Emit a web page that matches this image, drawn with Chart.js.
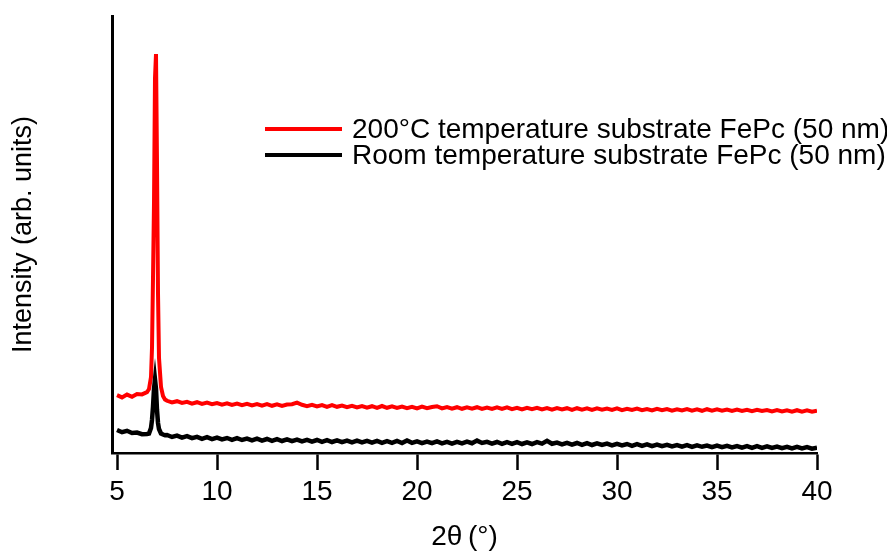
<!DOCTYPE html>
<html lang="en">
<head>
    <meta charset="UTF-8">
    <title>XRD FePc</title>
    <script src="https://cdn.jsdelivr.net/npm/chart.js"></script>
    <style>
        body { margin: 0; background: #fff; }
    </style>
</head>
<body>
    <canvas id="chart" width="887" height="554"></canvas>

    <script>
        // 2theta positions (deg)
        const twoTheta = [
            5, 5.25, 5.5, 5.75, 6, 6.25, 6.5,
            6.6, 6.7, 6.75, 6.8, 6.85, 6.9, 6.95, 7, 7.05, 7.1, 7.2, 7.3, 7.4,
            7.5, 7.75,
            8, 8.25, 8.5, 8.75, 9, 9.25, 9.5, 9.75,
            10, 10.25, 10.5, 10.75, 11, 11.25, 11.5, 11.75,
            12, 12.25, 12.5, 12.75, 13, 13.25, 13.5, 13.75,
            14, 14.25, 14.5, 14.75, 15, 15.25, 15.5, 15.75,
            16, 16.25, 16.5, 16.75, 17, 17.25, 17.5, 17.75,
            18, 18.25, 18.5, 18.75, 19, 19.25, 19.5, 19.75,
            20, 20.25, 20.5, 20.75, 21, 21.25, 21.5, 21.75,
            22, 22.25, 22.5, 22.75, 23, 23.25, 23.5, 23.75,
            24, 24.25, 24.5, 24.75, 25, 25.25, 25.5, 25.75,
            26, 26.25, 26.5, 26.75, 27, 27.25, 27.5, 27.75,
            28, 28.25, 28.5, 28.75, 29, 29.25, 29.5, 29.75,
            30, 30.25, 30.5, 30.75, 31, 31.25, 31.5, 31.75,
            32, 32.25, 32.5, 32.75, 33, 33.25, 33.5, 33.75,
            34, 34.25, 34.5, 34.75, 35, 35.25, 35.5, 35.75,
            36, 36.25, 36.5, 36.75, 37, 37.25, 37.5, 37.75,
            38, 38.25, 38.5, 38.75, 39, 39.25, 39.5, 39.75,
            40
        ];

        // 200 C substrate
        const hotSubstrate = [
            578, 556, 584, 562, 590, 586, 608,
            640, 760, 1050, 1750, 2500, 3750, 3990, 2900, 1600, 950, 660, 570, 535,
            522, 505,
            518, 500, 512, 494, 508, 490, 504, 488,
            500, 484, 497, 480, 494, 478, 492, 476,
            490, 474, 489, 472, 486, 470, 484, 488,
            503, 482, 468, 482, 466, 480, 462, 478,
            462, 474, 458, 472, 456, 470, 454, 468,
            452, 470, 452, 466, 450, 464, 448, 462,
            446, 464, 448, 460, 468, 446, 460, 444,
            458, 442, 456, 444, 458, 440, 454, 440,
            456, 440, 456, 438, 452, 436, 452, 438,
            452, 436, 450, 434, 450, 436, 448, 432,
            448, 434, 446, 430, 446, 432, 444, 430,
            446, 428, 442, 430, 444, 428, 440, 426,
            442, 428, 440, 424, 438, 426, 440, 424,
            436, 422, 438, 424, 436, 422, 434, 420,
            434, 420, 432, 418, 432, 420, 430, 416,
            430, 416, 428, 414, 428, 414, 426, 412,
            424
        ];

        // room temperature substrate
        const rtSubstrate = [
            230, 208, 222, 200, 204, 188, 190,
            195, 250, 330, 460, 640, 735, 640, 430, 300, 240, 195, 185, 178,
            180, 160,
            174, 154, 168, 148, 162, 142, 158, 138,
            154, 136, 150, 132, 148, 130, 144, 126,
            144, 124, 140, 122, 138, 120, 136, 118,
            134, 116, 132, 114, 130, 112, 128, 110,
            126, 108, 124, 106, 124, 106, 122, 104,
            122, 102, 118, 102, 120, 100, 126, 102,
            116, 98, 114, 98, 116, 96, 112, 94,
            112, 96, 114, 98, 124, 100, 112, 94,
            110, 92, 108, 92, 108, 90, 106, 90,
            108, 94, 122, 92, 104, 86, 102, 84,
            100, 82, 98, 80, 96, 80, 94, 76,
            92, 76, 90, 72, 88, 72, 86, 68,
            84, 68, 82, 66, 80, 64, 78, 62,
            76, 62, 74, 58, 74, 58, 72, 56,
            70, 54, 68, 52, 68, 52, 66, 50,
            64, 48, 62, 46, 62, 46, 60, 44,
            54
        ];

        const xTicks = [5, 10, 15, 20, 25, 30, 35, 40];

        Chart.defaults.font.family = '"Liberation Sans", Arial, sans-serif';
        Chart.defaults.color = '#000';

        // legend drawn inside the plot, to the right of the peak
        const sideLegend = {
            id: 'sideLegend',
            afterDatasetsDraw(chart) {
                const ctx = chart.ctx;
                ctx.save();
                ctx.font = '28px "Liberation Sans", Arial, sans-serif';
                ctx.textBaseline = 'middle';
                chart.data.datasets.forEach((ds, i) => {
                    const y = 129 + i * 26;
                    ctx.strokeStyle = ds.borderColor;
                    ctx.lineWidth = 4;
                    ctx.beginPath();
                    ctx.moveTo(265, y);
                    ctx.lineTo(342, y);
                    ctx.stroke();
                    ctx.fillStyle = '#000';
                    ctx.fillText(ds.label, 352, y + 1);
                });
                ctx.restore();
            }
        };

        const ctx = document.getElementById('chart').getContext('2d');

        new Chart(ctx, {
            type: 'line',
            data: {
                labels: twoTheta,
                datasets: [{
                    label: '200°C temperature substrate FePc (50 nm)',
                    data: hotSubstrate,
                    borderColor: '#ff0000',
                    borderWidth: 4,
                    pointRadius: 0,
                    tension: 0,
                    order: 1
                }, {
                    label: 'Room temperature substrate FePc (50 nm)',
                    data: rtSubstrate,
                    borderColor: '#000000',
                    borderWidth: 4.5,
                    pointRadius: 0,
                    tension: 0,
                    order: 0
                }]
            },
            options: {
                responsive: false,
                animation: false,
                layout: { padding: { top: 16, right: 70, left: 0, bottom: 0 } },
                plugins: {
                    legend: { display: false },
                    tooltip: { enabled: false }
                },
                scales: {
                    x: {
                        type: 'linear',
                        min: 4.75,
                        max: 40,
                        afterBuildTicks: (scale) => { scale.ticks = xTicks.map(v => ({ value: v })); },
                        afterFit: (scale) => { scale.height = 101; },
                        grid: {
                            display: true,
                            drawOnChartArea: false,
                            drawTicks: true,
                            tickLength: 17,
                            tickWidth: 2.5,
                            tickColor: '#000'
                        },
                        border: { display: true, color: '#000', width: 2.5 },
                        ticks: {
                            font: { size: 28 },
                            padding: 5,
                            maxRotation: 0
                        },
                        title: {
                            display: true,
                            text: '2θ\u2009(°)',
                            font: { size: 28 },
                            padding: { top: 0, bottom: 0 }
                        }
                    },
                    y: {
                        min: 0,
                        max: 4370,
                        afterFit: (scale) => { scale.width = 112; },
                        grid: { display: false },
                        border: { display: true, color: '#000', width: 3 },
                        ticks: { display: false },
                        title: {
                            display: true,
                            text: 'Intensity (arb. units)',
                            font: { size: 27 },
                            padding: { top: 7, bottom: 0 }
                        }
                    }
                }
            },
            plugins: [sideLegend]
        });
    </script>
</body>
</html>
